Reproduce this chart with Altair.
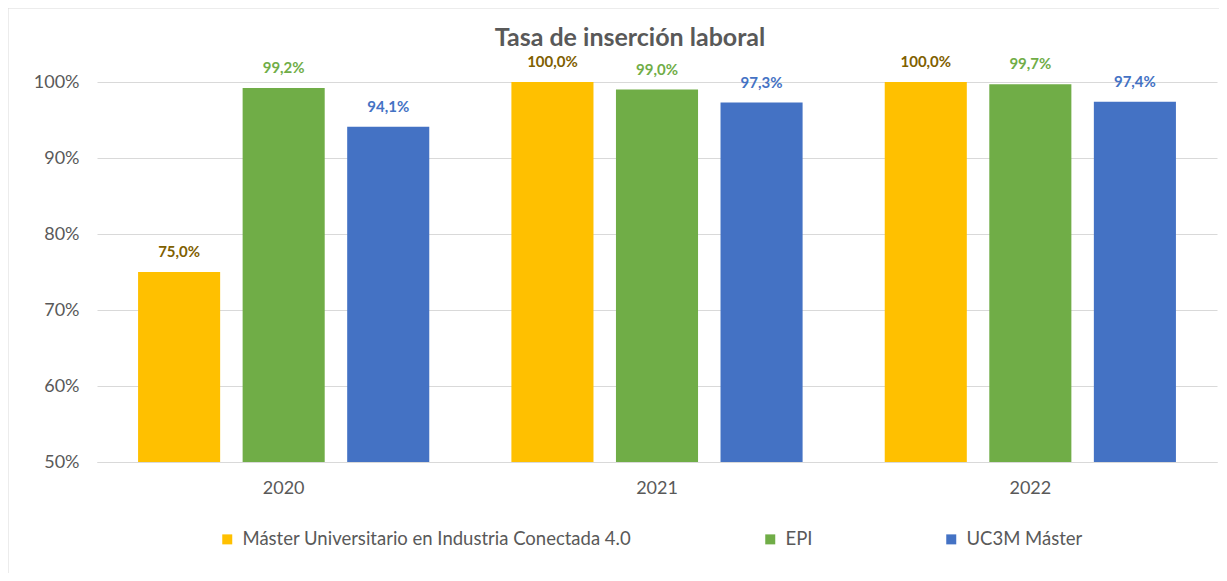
import altair as alt
import pandas as pd

years = ["2020", "2021", "2022"]
series = ["Máster Universitario en Industria Conectada 4.0", "EPI", "UC3M Máster"]
master_vals = [75.0, 100.0, 100.0]
epi_vals = [99.2, 99.0, 99.7]
uc3m_vals = [94.1, 97.3, 97.4]
bar_colors = ["#FFC000", "#70AD47", "#4472C4"]
label_colors = ["#7F6000", "#70AD47", "#4472C4"]

rows = []
for vals, s in zip([master_vals, epi_vals, uc3m_vals], series):
    for y, v in zip(years, vals):
        rows.append({"year": y, "serie": s, "valor": v})
df = pd.DataFrame(rows)

FONT = "Lato"
GRAY = "#595959"

x = alt.X("year:N", title=None,
          scale=alt.Scale(paddingInner=0.22, paddingOuter=0.11),
          axis=alt.Axis(labelAngle=0, labelFontSize=18, labelColor=GRAY, labelFont=FONT,
                        ticks=False, domainColor="#d9d9d9", labelPadding=17))
xo = alt.XOffset("serie:N", sort=series, scale=alt.Scale(paddingInner=0.215, paddingOuter=0))
y = alt.Y("valor:Q", title=None,
          scale=alt.Scale(domain=[50, 100], zero=False, nice=False),
          axis=alt.Axis(values=[50, 60, 70, 80, 90, 100], labelExpr="datum.value + '%'",
                        labelFontSize=18, labelColor=GRAY, labelFont=FONT, ticks=False,
                        domain=False, gridColor="#d9d9d9", labelPadding=18))

bars = alt.Chart(df).mark_bar().encode(
    x=x, xOffset=xo, y=y, y2=alt.datum(50),
    color=alt.Color("serie:N", sort=series, title=None,
                    scale=alt.Scale(domain=series, range=bar_colors),
                    legend=alt.Legend(orient="none", legendX=121, legendY=448,
                                      direction="horizontal", columns=3, gridAlign="each",
                                      columnPadding=129, symbolType="square", symbolSize=100,
                                      symbolStrokeWidth=0, labelFontSize=18.5, labelColor=GRAY,
                                      labelFont=FONT, labelLimit=0, labelOffset=6)),
)

labels = alt.Chart(df).transform_calculate(
    txt="replace(format(datum.valor / 100, '.1%'), '.', ',')"
).mark_text(baseline="alphabetic", dy=-15, fontWeight="bold", fontSize=15, font=FONT).encode(
    x=x, xOffset=xo, y=y, text="txt:N",
    color=alt.Color("serie:N", scale=alt.Scale(domain=series, range=label_colors), legend=None),
)

border = alt.Chart(alt.Data(values=[{}])).mark_rect(fill=None, stroke="#d9d9d9", strokeWidth=1).encode(
    x=alt.value(-89), x2=alt.value(1200), y=alt.value(-74), y2=alt.value(560)
)

chart = alt.layer(border, bars, labels).resolve_scale(color="independent").properties(
    width=1120, height=380,
    autosize=alt.AutoSizeParams(type="none"),
    padding={"left": 89, "top": 74, "right": 2, "bottom": 111},
    title=alt.TitleParams("Tasa de inserción laboral", fontSize=25, fontWeight="bold",
                          color=GRAY, font=FONT, anchor="middle", frame="group",
                          dx=-27, offset=-43),
).configure_view(stroke=None)

chart.save("out.html", embed_options={"renderer": "svg", "actions": False})
